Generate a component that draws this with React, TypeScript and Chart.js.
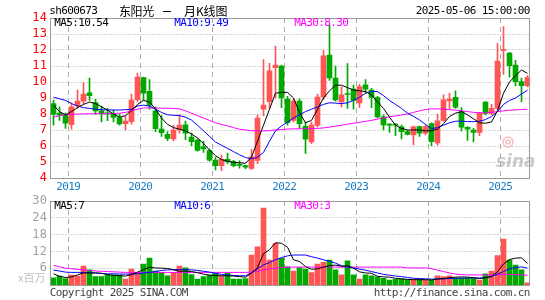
import { useEffect, useRef } from "react";
import { Chart, registerables } from "chart.js";

Chart.register(...registerables);

const months = [
  "2018-10", "2018-11", "2018-12",
  "2019-01", "2019-02", "2019-03", "2019-04", "2019-05", "2019-06", "2019-07", "2019-08", "2019-09", "2019-10", "2019-11", "2019-12",
  "2020-01", "2020-02", "2020-03", "2020-04", "2020-05", "2020-06", "2020-07", "2020-08", "2020-09", "2020-10", "2020-11", "2020-12",
  "2021-01", "2021-02", "2021-03", "2021-04", "2021-05", "2021-06", "2021-07", "2021-08", "2021-09", "2021-10", "2021-11", "2021-12",
  "2022-01", "2022-02", "2022-03", "2022-04", "2022-05", "2022-06", "2022-07", "2022-08", "2022-09", "2022-10", "2022-11", "2022-12",
  "2023-01", "2023-02", "2023-03", "2023-04", "2023-05", "2023-06", "2023-07", "2023-08", "2023-09", "2023-10", "2023-11", "2023-12",
  "2024-01", "2024-02", "2024-03", "2024-04", "2024-05", "2024-06", "2024-07", "2024-08", "2024-09", "2024-10", "2024-11", "2024-12",
  "2025-01", "2025-02", "2025-03", "2025-04", "2025-05",
];

const opens = [
  8.65, 8.05, 7.95,
  7.33, 8.5, 8.8, 9.33, 8.72, 8.2, 8.08, 8.0, 7.78, 7.4, 7.52, 8.9,
  10.27, 9.42, 8.2, 7.05, 6.73, 6.45, 7.0, 7.33, 6.55, 6.37, 5.95, 5.71,
  5.12, 4.77, 5.17, 5.02, 4.82, 4.77, 4.6, 5.1, 8.3, 8.77, 10.9, 11.0,
  8.94, 7.6, 8.8, 7.23, 6.25, 7.28, 9.06, 11.69, 10.25, 8.75, 9.27, 9.55,
  8.7, 9.82, 9.5, 9.03, 7.82, 7.33, 7.33, 7.2, 6.9, 6.7, 7.22, 6.8,
  7.4, 6.2, 7.6, 8.82, 9.04, 8.15, 7.17, 7.0, 6.85, 8.75, 8.04, 8.35,
  11.98, 11.8, 11.06, 10.02, 9.77,
];
const highs = [
  8.87, 8.45, 8.05,
  8.7, 9.5, 9.95, 10.25, 8.92, 8.5, 8.35, 8.25, 8.0, 7.85, 9.25, 10.55,
  10.3, 10.15, 8.45, 7.9, 6.9, 7.3, 7.95, 7.55, 6.8, 6.45, 6.3, 5.8,
  5.3, 5.43, 5.55, 5.1, 5.08, 4.8, 5.79, 7.95, 11.4, 11.17, 12.25, 11.05,
  9.1, 8.95, 8.95, 7.5, 7.5, 9.25, 11.96, 13.56, 11.0, 9.7, 11.15, 9.8,
  9.85, 10.15, 9.6, 9.1, 7.95, 7.4, 7.4, 7.3, 7.0, 7.25, 7.25, 7.3,
  7.45, 8.0, 9.2, 9.3, 9.45, 8.4, 7.22, 7.1, 8.1, 8.77, 8.6, 12.42,
  13.46, 11.85, 11.35, 10.25, 10.4,
];
const lows = [
  7.3, 7.6, 7.1,
  7.05, 8.35, 8.6, 8.85, 7.97, 7.5, 7.58, 7.5, 7.3, 7.0, 7.37, 8.75,
  8.85, 8.3, 6.9, 6.6, 6.33, 6.33, 6.8, 6.4, 6.02, 5.67, 5.6, 5.05,
  4.5, 4.46, 4.9, 4.7, 4.62, 4.58, 4.54, 4.9, 7.9, 8.35, 9.0, 8.4,
  7.3, 7.5, 7.1, 5.54, 6.15, 7.2, 8.9, 10.1, 8.8, 8.45, 8.35, 8.3,
  8.4, 9.3, 8.4, 7.75, 7.0, 6.85, 6.65, 6.45, 6.7, 6.06, 6.6, 6.7,
  6.02, 6.05, 7.55, 8.3, 8.35, 6.95, 6.35, 6.25, 6.65, 7.95, 7.95, 8.25,
  10.47, 10.3, 9.75, 8.75, 9.7,
];
const closes = [
  7.98, 7.92, 7.42,
  8.45, 8.8, 9.25, 9.15, 8.2, 8.0, 8.0, 7.78, 7.38, 7.55, 8.87, 10.3,
  9.3, 8.55, 7.08, 6.83, 6.47, 7.0, 7.3, 6.8, 6.27, 5.72, 5.82, 5.12,
  4.77, 5.17, 5.02, 4.77, 4.79, 4.67, 5.33, 7.75, 8.56, 10.7, 11.06, 9.0,
  7.46, 8.8, 7.4, 6.43, 7.3, 9.05, 11.64, 10.25, 8.88, 9.2, 9.22, 8.85,
  9.72, 9.55, 9.03, 7.82, 7.32, 7.3, 7.3, 6.9, 6.73, 7.2, 6.8, 7.22,
  6.27, 7.58, 8.88, 8.93, 8.42, 7.17, 7.05, 6.85, 8.04, 8.04, 8.35, 11.31,
  12.02, 11.02, 10.02, 9.77, 10.27,
];

const ma5 = [
  8.55, 8.15, 7.95, 8.15, 8.4, 8.6, 8.75, 8.65, 8.45, 8.25,
  8.0, 7.8, 7.9, 8.2, 8.6, 8.85, 8.75, 8.3, 7.75, 7.35,
  7.15, 7.05, 6.95, 6.75, 6.5, 6.15, 5.75, 5.4, 5.15, 5.05,
  4.98, 4.95, 4.92, 5.3, 6.3, 7.3, 8.3, 9.3, 9.35, 9.35,
  9.0, 8.1, 7.45, 7.6, 8.3, 9.0, 9.45, 9.8, 9.8, 9.65,
  9.5, 9.45, 9.4, 9.2, 8.75, 8.35, 7.8, 7.3, 7.1, 7.0,
  7.0, 7.0, 6.95, 6.95, 7.05, 7.4, 7.85, 8.05, 8.15, 7.95,
  7.7, 7.45, 7.42, 7.5, 8.2, 9.3, 10.0, 10.4, 10.75, 10.54,
];
const ma10 = [
  9.05, 8.95, 8.85, 8.65, 8.5, 8.4, 8.35, 8.3, 8.27, 8.25,
  8.25, 8.25, 8.27, 8.3, 8.5, 8.55, 8.5, 8.3, 8.1, 7.95,
  7.92, 7.9, 7.8, 7.62, 7.3, 6.95, 6.6, 6.25, 6.05, 5.85,
  5.65, 5.45, 5.28, 5.2, 5.3, 5.6, 6.3, 6.95, 7.25, 7.5,
  7.75, 7.95, 8.15, 8.3, 8.45, 8.6, 8.7, 8.68, 8.65, 8.7,
  8.85, 9.05, 9.3, 9.42, 9.4, 9.15, 8.85, 8.6, 8.35, 8.05,
  7.85, 7.63, 7.35, 7.08, 7.15, 7.3, 7.45, 7.55, 7.55, 7.53,
  7.52, 7.55, 7.65, 7.85, 8.15, 8.6, 8.85, 9.0, 9.25, 9.49,
];
const ma30 = [
  7.8, 7.9, 7.95, 7.98, 8.0, 8.0, 8.02, 8.02, 8.02, 8.02,
  8.03, 8.05, 8.1, 8.2, 8.3, 8.38, 8.38, 8.37, 8.37, 8.36,
  8.35, 8.32, 8.2, 8.05, 7.9, 7.75, 7.6, 7.45, 7.35, 7.25,
  7.15, 7.05, 7.0, 6.96, 6.94, 6.94, 6.96, 7.0, 7.03, 7.06,
  7.07, 7.08, 7.08, 7.09, 7.1, 7.13, 7.18, 7.24, 7.3, 7.36,
  7.42, 7.48, 7.54, 7.6, 7.68, 7.75, 7.82, 7.88, 7.94, 8.0,
  8.1, 8.2, 8.28, 8.32, 8.32, 8.3, 8.27, 8.24, 8.2, 8.15,
  8.1, 8.08, 8.08, 8.1, 8.15, 8.2, 8.23, 8.26, 8.28, 8.3,
];

const volumes = [
  2.6, 3.2, 2.3, 3.5, 3.2, 6.8, 5.4, 3.0, 3.0, 3.5,
  3.5, 3.5, 2.1, 5.7, 4.5, 7.5, 9.6, 5.0, 4.4, 3.3,
  4.5, 6.8, 6.1, 3.7, 2.1, 3.0, 3.5, 4.2, 3.1, 4.3,
  2.1, 2.1, 2.3, 10.7, 13.6, 27.5, 8.9, 14.9, 9.5, 6.5,
  5.0, 6.2, 5.7, 4.4, 7.5, 8.1, 8.9, 5.4, 3.6, 8.6,
  3.6, 2.1, 3.6, 3.3, 2.9, 2.4, 1.8, 2.0, 2.2, 1.9,
  1.9, 1.9, 1.8, 1.7, 3.3, 3.0, 3.3, 2.5, 2.5, 2.5,
  2.3, 1.8, 4.0, 5.0, 10.5, 16.4, 8.9, 7.1, 5.4, 0.8,
];
const volMa5 = [
  4.0, 3.1, 2.7, 2.9, 3.6, 4.3, 4.3, 4.3, 4.2, 3.7,
  3.5, 3.3, 3.2, 3.7, 4.6, 5.5, 6.3, 6.1, 6.0, 5.9,
  5.4, 4.9, 5.0, 4.8, 4.4, 3.9, 3.5, 3.4, 3.3, 3.3,
  3.2, 3.0, 2.8, 4.3, 6.2, 11.2, 12.6, 15.1, 14.9, 13.5,
  9.0, 8.4, 6.6, 5.6, 5.8, 6.4, 6.9, 7.1, 6.7, 6.9,
  6.0, 4.7, 4.3, 4.2, 3.1, 2.9, 2.8, 2.4, 2.2, 2.0,
  1.9, 1.9, 1.9, 1.8, 2.1, 2.3, 2.6, 2.8, 2.9, 2.8,
  2.6, 2.3, 2.6, 3.1, 4.7, 7.5, 9.1, 9.6, 9.7, 7.7,
];
const volMa10 = [
  5.3, 5.0, 4.6, 4.5, 4.5, 4.5, 4.4, 4.3, 4.1, 4.0,
  4.0, 3.9, 3.9, 3.9, 4.0, 4.3, 4.5, 4.8, 5.2, 5.4,
  5.5, 5.5, 5.5, 5.4, 5.2, 4.9, 4.6, 4.2, 3.8, 3.6,
  3.4, 3.3, 3.3, 4.3, 5.8, 7.2, 8.0, 9.0, 9.8, 10.4,
  10.7, 10.7, 10.7, 10.1, 9.6, 9.0, 8.5, 7.8, 6.9, 6.4,
  6.1, 5.7, 5.3, 4.8, 4.3, 3.8, 3.5, 3.2, 3.0, 2.7,
  2.4, 2.3, 2.2, 2.1, 2.2, 2.2, 2.3, 2.4, 2.4, 2.5,
  2.5, 2.5, 2.6, 3.0, 3.9, 4.8, 5.8, 6.2, 6.5, 6.0,
];
const volMa30 = [
  7.0, 6.5, 6.0, 5.8, 5.6, 5.4, 5.2, 5.0, 4.9, 4.8,
  4.7, 4.6, 4.5, 4.5, 4.5, 4.5, 4.5, 4.5, 4.5, 4.5,
  4.5, 4.5, 4.5, 4.5, 4.5, 4.5, 4.5, 4.5, 4.5, 4.5,
  4.5, 4.5, 4.5, 4.6, 4.9, 5.4, 5.8, 6.0, 6.3, 6.4,
  6.4, 6.4, 6.4, 6.4, 6.4, 6.4, 6.4, 6.4, 6.4, 6.4,
  6.4, 6.4, 6.4, 6.4, 6.4, 6.4, 6.4, 6.4, 6.4, 6.1,
  6.1, 6.1, 6.1, 5.8, 5.3, 4.8, 4.3, 3.9, 3.7, 3.6,
  3.6, 3.6, 3.6, 3.6, 3.6, 3.8, 3.8, 3.7, 3.6, 3.5,
];

const priceTicks = [14, 13, 12, 11, 10, 9, 8, 7, 6, 5, 4];
const volTicks = [30, 24, 18, 12, 6];
const mainLegend = ["MA5:10.54", "MA10:9.49", "MA30:8.30"];
const volLegend = ["MA5:7", "MA10:6", "MA30:3"];
const stockCode = "sh600673";
const titleName = "东阳光";
const titleKind = "月K线图";
const dateText = "2025-05-06 15:00:00";

const UP = "#ff5555";
const DOWN = "#00a800";
const LINE_COLORS = ["#000000", "#0000ff", "#ff00ff"];
const MONO = '"DejaVu Sans Mono", "Liberation Mono", monospace';
const CJK = '"Noto Sans CJK SC", "Noto Sans", sans-serif';

function monoText(ctx: CanvasRenderingContext2D, s: string, x: number, y: number, pitch: number, align: "left" | "right" | "center" = "left") {
  const w = s.length * pitch;
  const sx = align === "right" ? x - w : align === "center" ? x - w / 2 : x;
  ctx.textAlign = "center";
  for (let k = 0; k < s.length; k++) ctx.fillText(s[k], sx + k * pitch + pitch / 2, y);
}

function drawFrame(chart: any, gridValues: number[]) {
  const { ctx, chartArea: a, scales } = chart;
  const xs = scales.x;
  const ys = scales.y;
  ctx.save();
  ctx.lineWidth = 1;
  ctx.strokeStyle = "#aaaaaa";
  ctx.setLineDash([1, 2]);
  for (const v of gridValues) {
    const py = Math.floor(ys.getPixelForValue(v)) + 0.5;
    ctx.beginPath();
    ctx.moveTo(a.left, py);
    ctx.lineTo(a.right, py);
    ctx.stroke();
  }
  ctx.setLineDash([5, 4]);
  const half = (xs.getPixelForValue(1) - xs.getPixelForValue(0)) / 2;
  months.forEach((m, i) => {
    if (m.endsWith("-01")) {
      const px = Math.floor(xs.getPixelForValue(i) - half) + 0.5;
      ctx.beginPath();
      ctx.moveTo(px, a.top);
      ctx.lineTo(px, a.bottom);
      ctx.stroke();
    }
  });
  ctx.restore();
}

function drawBorder(chart: any) {
  const { ctx, chartArea: a } = chart;
  ctx.save();
  ctx.setLineDash([]);
  ctx.strokeStyle = "#999999";
  ctx.lineWidth = 1;
  const l = Math.floor(a.left) + 0.5;
  const r = Math.floor(a.right) - 0.5;
  const t = Math.floor(a.top) + 0.5;
  const b = Math.floor(a.bottom) + 0.5;
  ctx.strokeRect(l, t, r - l, b - t);
  ctx.restore();
}

export default function App() {
  const mainRef = useRef<HTMLCanvasElement | null>(null);
  const volRef = useRef<HTMLCanvasElement | null>(null);

  useEffect(() => {
    const up = closes.map((c, i) => c >= opens[i]);
    const colors = up.map((u) => (u ? UP : DOWN));
    const wicks = lows.map((l, i) => [l, highs[i]]);
    const bodies = opens.map((o, i) => [o, closes[i]]);

    const lineDs = (data: number[], color: string) => ({
      type: "line" as const,
      data,
      borderColor: color,
      borderWidth: 1,
      pointRadius: 0,
      tension: 0,
      fill: false,
      order: 0,
    });

    const mainPlugin = {
      id: "mainDecor",
      beforeDatasetsDraw(chart: any) {
        drawFrame(chart, [13, 12, 11, 10, 9, 8, 7, 6, 5]);
      },
      afterDraw(chart: any) {
        const { ctx, chartArea: a, scales } = chart;
        drawBorder(chart);
        ctx.save();
        ctx.textBaseline = "middle";
        // y labels
        ctx.fillStyle = "#ff0000";
        ctx.font = `12px ${MONO}`;
        for (const v of priceTicks) {
          monoText(ctx, String(v), 47, scales.y.getPixelForValue(v), 7.4, "right");
        }
        // header
        ctx.fillStyle = "#000000";
        ctx.font = `11px ${MONO}`;
        monoText(ctx, stockCode, 49.5, 11, 6);
        monoText(ctx, dateText, 530, 11.5, 6, "right");
        ctx.font = `12px ${CJK}`;
        ctx.textAlign = "left";
        let cx = 119;
        for (const ch of titleName) {
          ctx.fillText(ch, cx, 11);
          cx += 11.6;
        }
        ctx.fillRect(163, 11, 8, 1);
        cx = 184;
        for (const ch of titleKind) {
          ctx.fillText(ch, cx, 11);
          cx += ch === "K" ? 7.5 : 12;
        }
        // legends
        ctx.font = `11px ${MONO}`;
        mainLegend.forEach((t, k) => {
          ctx.fillStyle = LINE_COLORS[k];
          monoText(ctx, t, a.left + 4 + k * 120, 23.5, 6);
        });
        // year labels
        ctx.fillStyle = "#1a7fc4";
        const half = (scales.x.getPixelForValue(1) - scales.x.getPixelForValue(0)) / 2;
        months.forEach((m, i) => {
          if (m.endsWith("-01")) {
            monoText(ctx, m.slice(0, 4), scales.x.getPixelForValue(i) - half, 187.5, 6, "center");
          }
        });
        // watermark
        ctx.fillStyle = "rgba(160,160,160,0.55)";
        ctx.font = `italic bold 17px "DejaVu Sans", sans-serif`;
        ctx.textAlign = "left";
        ctx.fillText("sina", 496, 163);
        ctx.strokeStyle = "rgba(240,140,140,0.55)";
        ctx.lineWidth = 1.5;
        ctx.beginPath();
        ctx.arc(508, 142, 5, 0, Math.PI * 2);
        ctx.stroke();
        ctx.beginPath();
        ctx.arc(508, 142, 2, 0, Math.PI * 2);
        ctx.stroke();
        ctx.restore();
      },
    };

    const volPlugin = {
      id: "volDecor",
      beforeDatasetsDraw(chart: any) {
        drawFrame(chart, [24, 18, 12, 6]);
      },
      afterDraw(chart: any) {
        const { ctx, chartArea: a, scales } = chart;
        drawBorder(chart);
        ctx.save();
        ctx.textBaseline = "middle";
        ctx.fillStyle = "#a0a0a0";
        ctx.font = `12px ${MONO}`;
        for (const v of volTicks) {
          monoText(ctx, String(v), 47, scales.y.getPixelForValue(v), 7.4, "right");
        }
        ctx.fillStyle = "#c0c0c0";
        ctx.font = `11px ${CJK}`;
        ctx.textAlign = "left";
        ctx.fillText("x百万", 18, 83);
        ctx.font = `11px ${MONO}`;
        volLegend.forEach((t, k) => {
          ctx.fillStyle = LINE_COLORS[k];
          monoText(ctx, t, a.left + 4 + k * 120, 11.5, 6);
        });
        ctx.fillStyle = "#444444";
        monoText(ctx, "Copyright 2025 SINA.COM", 50, 98, 6);
        monoText(ctx, "http://finance.sina.com.cn", 530, 98, 6, "right");
        ctx.restore();
      },
    };

    const common = {
      responsive: false,
      animation: false as const,
      events: [] as any[],
      plugins: { legend: { display: false }, tooltip: { enabled: false } },
    };

    const main = new Chart(mainRef.current!, {
      type: "bar",
      data: {
        labels: months,
        datasets: [
          lineDs(ma5, LINE_COLORS[0]),
          lineDs(ma10, LINE_COLORS[1]),
          lineDs(ma30, LINE_COLORS[2]),
          { type: "bar", data: wicks as any, backgroundColor: colors, barThickness: 1, grouped: false, order: 2 } as any,
          { type: "bar", data: bodies as any, backgroundColor: colors, barThickness: 5, grouped: false, minBarLength: 1, order: 1 } as any,
        ],
      },
      options: {
        ...common,
        layout: { padding: { left: 50.5, right: 14.5, top: 18, bottom: 17 } },
        scales: {
          x: { type: "category", display: false, offset: true },
          y: { display: false, min: 4, max: 14 },
        },
      } as any,
      plugins: [mainPlugin],
    });

    const vol = new Chart(volRef.current!, {
      type: "bar",
      data: {
        labels: months,
        datasets: [
          lineDs(volMa5, LINE_COLORS[0]),
          lineDs(volMa10, LINE_COLORS[1]),
          lineDs(volMa30, LINE_COLORS[2]),
          { type: "bar", data: volumes, backgroundColor: colors, barThickness: 5, grouped: false, order: 1 } as any,
        ],
      },
      options: {
        ...common,
        layout: { padding: { left: 50.5, right: 14.5, top: 6, bottom: 15 } },
        scales: {
          x: { type: "category", display: false, offset: true },
          y: { display: false, min: 0, max: 30 },
        },
      } as any,
      plugins: [volPlugin],
    });

    return () => {
      main.destroy();
      vol.destroy();
    };
  }, []);

  return (
    <div style={{ position: "fixed", left: 0, top: 0, width: 545, height: 300, background: "#ffffff" }}>
      <canvas ref={mainRef} width={545} height={195} style={{ position: "absolute", left: 0, top: 0, width: 545, height: 195 }} />
      <canvas ref={volRef} width={545} height={105} style={{ position: "absolute", left: 0, top: 195, width: 545, height: 105 }} />
    </div>
  );
}
